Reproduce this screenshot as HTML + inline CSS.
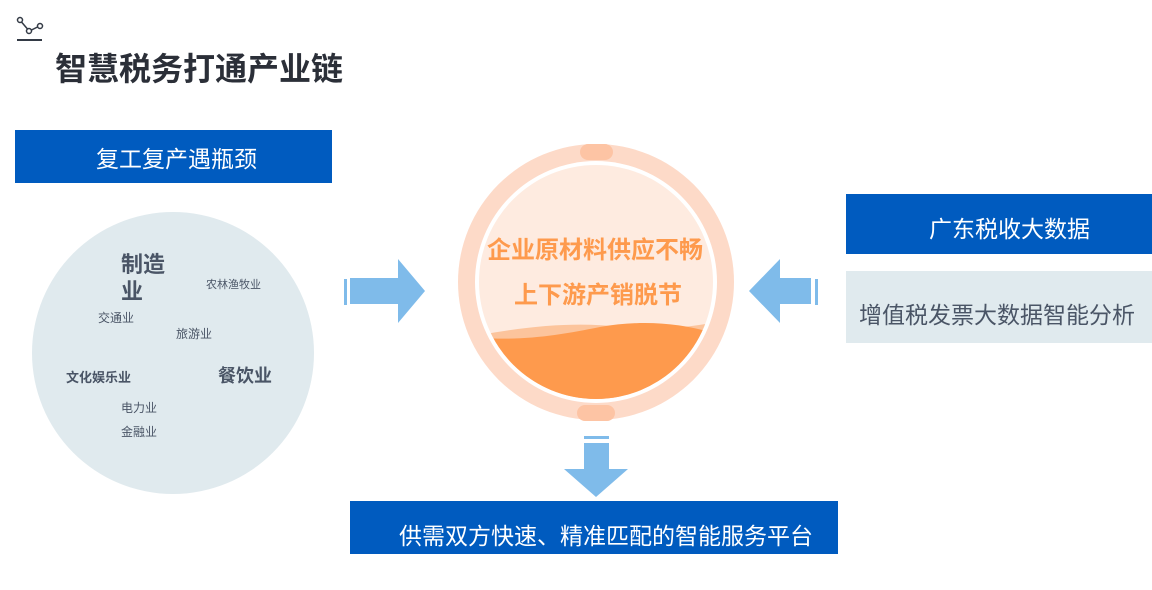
<!DOCTYPE html>
<html><head><meta charset="utf-8"><style>
html,body{margin:0;padding:0;background:#fff;}
body{width:1152px;height:590px;position:relative;overflow:hidden;font-family:"Liberation Sans","Noto Sans CJK SC",sans-serif;}
.a{position:absolute;white-space:nowrap;}
</style></head><body>
<svg width="1152" height="590" style="position:absolute;left:0;top:0">
 <g stroke="#333a45" stroke-width="1.5" fill="none">
  <circle cx="20" cy="20" r="2.5"/><circle cx="29" cy="31" r="2.5"/><circle cx="40" cy="26" r="2.5"/>
  <line x1="21.5" y1="22" x2="27.5" y2="29"/><line x1="31.5" y1="30" x2="37.5" y2="27"/>
 </g>
 <line x1="17" y1="40" x2="42" y2="40" stroke="#333a45" stroke-width="2"/>
 <rect x="15" y="130" width="317" height="53" fill="#005bbf"/>
 <circle cx="173" cy="353" r="141" fill="#e0eaee"/>
 <rect x="344" y="279" width="3" height="26" fill="#7fbbea"/>
 <polygon points="350,278 398,278 398,259 425,291 398,323 398,304 350,304" fill="#7fbbea"/>
 <rect x="815" y="279" width="3" height="26" fill="#7fbbea"/>
 <polygon points="811,278 780,278 780,259 749,291 780,323 780,304 811,304" fill="#7fbbea"/>
 <circle cx="596" cy="282" r="138" fill="#fddac8"/>
 <circle cx="596" cy="282" r="121" fill="#fff"/>
 <clipPath id="c"><circle cx="596" cy="282" r="117"/></clipPath>
 <g clip-path="url(#c)">
  <rect x="470" y="160" width="260" height="250" fill="#feebe0"/>
  <path d="M470,337 C530,325 580,322 620,327 C660,332 690,326 720,322 L720,420 L470,420Z" fill="#fcc49c"/>
  <path d="M470,337 C520,342 560,335 600,327 C640,320 680,322 720,335 L720,420 L470,420Z" fill="#fe9a4d"/>
 </g>
 <rect x="580" y="144" width="33" height="16" rx="8" fill="#fdc4a4"/>
 <rect x="577" y="405" width="38" height="16" rx="8" fill="#fdc4a4"/>
 <rect x="584" y="436" width="25" height="3" fill="#7fbbea"/>
 <polygon points="584,443 609,443 609,469 628,469 596,497 564,469 584,469" fill="#7fbbea"/>
 <rect x="846" y="194" width="306" height="60" fill="#005bbf"/>
 <rect x="846" y="271" width="306" height="72" fill="#e0eaee"/>
 <rect x="350" y="501" width="488" height="53" fill="#005bbf"/>
</svg>
<div class="a" style="left:55px;top:44px;font-size:32px;font-weight:bold;color:#2b2f38;">智慧税务打通产业链</div>
<div class="a" style="left:96px;top:140px;font-size:23px;color:#fff;">复工复产遇瓶颈</div>
<div class="a" style="left:121px;top:251px;font-size:22px;font-weight:bold;color:#4a5566;line-height:27px;">制造<br>业</div>
<div class="a" style="left:206px;top:276px;font-size:11px;color:#4a5566;">农林渔牧业</div>
<div class="a" style="left:98px;top:309px;font-size:12px;color:#4a5566;">交通业</div>
<div class="a" style="left:176px;top:325px;font-size:12px;color:#4a5566;">旅游业</div>
<div class="a" style="left:66px;top:367px;font-size:13px;font-weight:bold;color:#4a5566;">文化娱乐业</div>
<div class="a" style="left:218px;top:362px;font-size:18px;font-weight:bold;color:#4a5566;">餐饮业</div>
<div class="a" style="left:121px;top:399px;font-size:12px;color:#4a5566;">电力业</div>
<div class="a" style="left:121px;top:423px;font-size:12px;color:#4a5566;">金融业</div>
<div class="a" style="left:487px;top:230px;font-size:24px;font-weight:bold;color:#fe9a4d;">企业原材料供应不畅</div>
<div class="a" style="left:514px;top:275px;font-size:24px;font-weight:bold;color:#fe9a4d;">上下游产销脱节</div>
<div class="a" style="left:929px;top:210px;font-size:23px;color:#fff;">广东税收大数据</div>
<div class="a" style="left:859px;top:296px;font-size:23px;color:#4a5566;">增值税发票大数据智能分析</div>
<div class="a" style="left:399px;top:517px;font-size:23px;color:#fff;">供需双方快速、精准匹配的智能服务平台</div>
</body></html>
